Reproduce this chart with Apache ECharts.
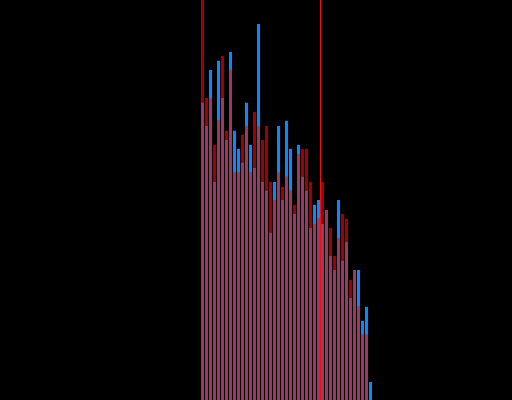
<!DOCTYPE html>
<html>
<head>
<meta charset="utf-8">
<script src="https://cdn.jsdelivr.net/npm/echarts@6/dist/echarts.min.js"></script>
<style>
  html, body { margin: 0; padding: 0; background: #000; }
  #chart { width: 512px; height: 400px; }
</style>
</head>
<body>
<div id="chart"></div>
<script>
// bin index per bar
const bins = Array.from({ length: 43 }, (_, i) => String(i));

// series values
const blueVals = [74.3, 68.5, 82.5, 54.5, 84.8, 75.5, 65, 87, 67.3, 62.8, 59.3, 74.3, 63.8, 58, 94,
  54.5, 52.3, 41.8, 54.5, 68.5, 50, 69.8, 62.8, 46.5, 63.8, 55.8, 52.3, 43, 48.8, 50, 44, 47.5,
  36, 32.5, 50, 34.8, 39.5, 25.5, 32.5, 32.5, 19.8, 23.3, 4.5];
const redVals = [110, 75.5, 75.5, 63.8, 69.8, 86, 67.3, 82.5, 56.8, 56.8, 66.3, 68.5, 56.8, 72, 68.5,
  65, 68.5, 54.5, 50, 56.8, 53.3, 55.8, 52.3, 48.8, 61.5, 62.8, 62.8, 54.5, 44, 45.3, 54.5, 47.5,
  43, 36, 40.5, 46.5, 45.3, 30, 32.5, 23.3, 16.3, 16.3, 0];

// vertical cut-off line (bin boundary)
const cutoff = [30];

const overlapVals = blueVals.map((b, i) => Math.min(b, redVals[i]));

const chart = echarts.init(document.getElementById('chart'));
chart.setOption({
  backgroundColor: '#000',
  animation: false,
  grid: { left: 200.5, right: 139.5, top: 0, bottom: 0 },
  xAxis: [
    { type: 'category', data: bins, show: false },
    { type: 'value', min: 0, max: bins.length, show: false }
  ],
  yAxis: { type: 'value', min: 0, max: 100, show: false },
  series: [
    { type: 'bar', data: blueVals, barWidth: 3, barGap: '-100%', itemStyle: { color: '#0a88ff' } },
    { type: 'bar', data: redVals, barWidth: 3, barGap: '-100%', itemStyle: { color: '#a00000' } },
    { type: 'bar', data: overlapVals, barWidth: 3, barGap: '-100%', itemStyle: { color: '#9b3866' } },
    {
      type: 'line', xAxisIndex: 1, symbol: 'none',
      data: [[cutoff[0], 0], [cutoff[0], 100]],
      lineStyle: { color: '#f01010', width: 1 }
    }
  ]
});
</script>
</body>
</html>
